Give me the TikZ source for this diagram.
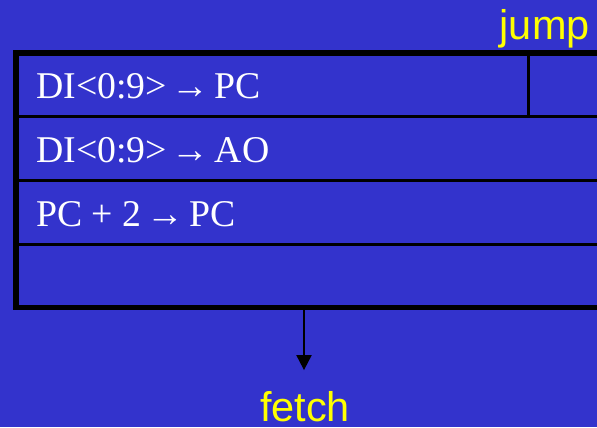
\documentclass[tikz,border=0pt]{standalone}
\usepackage{fontspec}
\setmainfont{Liberation Serif}
\newfontfamily\labelfont{Liberation Sans}
\usepackage{xcolor}
\usetikzlibrary{arrows.meta,positioning}
\definecolor{slideblue}{RGB}{51,51,204}
\definecolor{slideyellow}{RGB}{255,255,0}
\newcommand{\moveto}{\kern-2.6pt→\kern-2.4pt}

\begin{document}
\begin{tikzpicture}[x=0.02cm,y=-0.02cm,
  rowtext/.style={anchor=base west,inner sep=0pt,text=white,font=\fontsize{21.5}{26}\selectfont},
  statename/.style={inner sep=0pt,text=slideyellow,font=\labelfont\fontsize{23.6}{28}\selectfont},
  flow/.style={line width=1.1pt,-{Triangle[width=0.3cm,length=0.3cm]}}]
\fill[slideblue] (0,0) rectangle (597,427);
\useasboundingbox (0,0) rectangle (597,427);
\clip (0,0) rectangle (597,427);
% control word rows
\draw[line width=1.7pt] (16,116.5) -- (620,116.5);
\draw[line width=1.7pt] (16,180.5) -- (620,180.5);
\draw[line width=1.7pt] (16,244) -- (620,244);
\draw[line width=1.7pt] (528,53) -- (528,116.5);
\draw[line width=3.4pt] (16,53) rectangle (620,307.5);
\node[rowtext] (pcload) at (36,98) {DI<0:9> \moveto{} PC};
\node[rowtext] (aoload) at (36,162) {DI<0:9> \moveto{} AO};
\node[rowtext] (pcinc) at (36,226) {PC + 2 \moveto{} PC};
% state names
\node[statename,anchor=base east] (jump) at (590,39) {jump};
\node[statename,anchor=base] (fetch) at (305,421) {fetch};
\coordinate (out) at (304,309);
\draw[flow,shorten >=0.41cm] (out) -- (out |- fetch.north);
\end{tikzpicture}
\end{document}
